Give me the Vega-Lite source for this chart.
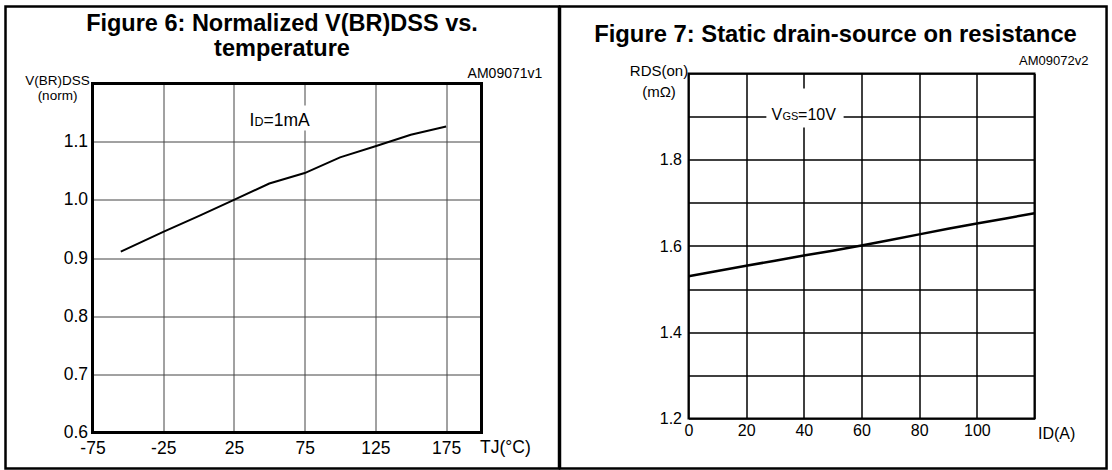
{
  "$schema": "https://vega.github.io/schema/vega-lite/v6.json",
  "background": "white",
  "padding": {"left": 3.5, "top": 3.5, "right": 0, "bottom": 0},
  "spacing": -3,
  "config": {
    "font": "Liberation Sans",
    "view": {"stroke": null},
    "axis": {"labelColor": "black", "titleColor": "black", "titleFontWeight": "normal", "labelFont": "Liberation Sans", "titleFont": "Liberation Sans", "ticks": false, "domain": false, "labelOverlap": false, "labelFlush": false},
    "title": {"color": "black", "font": "Liberation Sans", "fontWeight": "bold"},
    "text": {"fontWeight": "normal", "color": "black", "font": "Liberation Sans"}
  },
  "datasets": {
    "fig6": [
      {"t": -55, "v": 0.911}, {"t": -25, "v": 0.945}, {"t": 0, "v": 0.972}, {"t": 25, "v": 1.0},
      {"t": 50, "v": 1.028}, {"t": 75, "v": 1.046}, {"t": 100, "v": 1.073}, {"t": 125, "v": 1.092},
      {"t": 150, "v": 1.112}, {"t": 175, "v": 1.126}
    ],
    "fig7": [
      {"i": 0, "r": 1.530}, {"i": 10, "r": 1.542}, {"i": 20, "r": 1.554}, {"i": 30, "r": 1.566},
      {"i": 40, "r": 1.578}, {"i": 50, "r": 1.589}, {"i": 60, "r": 1.601}, {"i": 70, "r": 1.614},
      {"i": 80, "r": 1.627}, {"i": 90, "r": 1.640}, {"i": 100, "r": 1.652}, {"i": 110, "r": 1.664},
      {"i": 120, "r": 1.676}
    ],
    "one": [{}]
  },
  "hconcat": [
    {
      "width": 389,
      "height": 359,
      "title": {"text": ["Figure 6: Normalized V(BR)DSS vs.", "temperature"], "fontSize": 23.5, "lineHeight": 25, "anchor": "middle", "dx": -5, "offset": -55},
      "layer": [
        {
          "data": {"name": "one"},
          "mark": {"type": "rect", "fill": null, "stroke": "black", "strokeWidth": 2.5, "clip": false},
          "encoding": {
            "x": {"datum": -136.5, "type": "quantitative", "scale": {"domain": [-75, 200], "nice": false, "zero": false}},
            "x2": {"datum": 254.8},
            "y": {"datum": 1.3324, "type": "quantitative", "scale": {"domain": [0.6, 1.2172], "nice": false, "zero": false}},
            "y2": {"datum": 0.5381}
          }
        },
        {
          "data": {"name": "one"},
          "mark": {"type": "rect", "fill": "white", "stroke": null, "clip": false},
          "encoding": {
            "x": {"datum": -76, "type": "quantitative", "scale": {"domain": [-75, 200], "nice": false, "zero": false}},
            "x2": {"datum": 201},
            "y": {"datum": 1.2172, "type": "quantitative", "scale": {"domain": [0.6, 1.2172], "nice": false, "zero": false}},
            "y2": {"datum": 1.2}
          }
        },
        {
          "data": {"name": "one"},
          "mark": {"type": "rect", "fill": "white", "stroke": null},
          "encoding": {
            "x": {"datum": 32.5, "type": "quantitative", "scale": {"domain": [-75, 200], "nice": false, "zero": false}},
            "x2": {"datum": 89},
            "y": {"datum": 1.162, "type": "quantitative", "scale": {"domain": [0.6, 1.2172], "nice": false, "zero": false}},
            "y2": {"datum": 1.119}
          }
        },
        {
          "data": {"name": "fig6"},
          "mark": {"type": "line", "color": "black", "strokeWidth": 2},
          "encoding": {
            "x": {
              "field": "t", "type": "quantitative",
              "scale": {"domain": [-75, 200], "nice": false, "zero": false},
              "axis": {
                "values": [-75, -50, -25, 0, 25, 50, 75, 100, 125, 150, 175, 200],
                "labelExpr": "abs(datum.value % 50) == 25 ? '' + datum.value : ''",
                "grid": true, "gridColor": "#444", "gridWidth": 1,
                "labelFontSize": 17.5, "labelPadding": 7,
                "title": "TJ(°C)", "titleFontSize": 17.5, "titleX": 387, "titleY": 15,
                "titleAlign": "left", "titleBaseline": "middle", "titleAngle": 0
              }
            },
            "y": {
              "field": "v", "type": "quantitative",
              "scale": {"domain": [0.6, 1.2172], "nice": false, "zero": false},
              "axis": {
                "values": [0.6, 0.7, 0.8, 0.9, 1.0, 1.1, 1.2],
                "labelExpr": "datum.value < 1.15 ? format(datum.value, '.1f') : ''",
                "grid": true, "gridColor": "#444", "gridWidth": 1,
                "labelFontSize": 17.5, "labelPadding": 5,
                "title": ["V(BR)DSS", "(norm)"], "titleFontSize": 13.5, "titleLineHeight": 15,
                "titleAngle": 0, "titleX": -35.5, "titleY": 11, "titleAlign": "center", "titleBaseline": "alphabetic"
              }
            }
          }
        },
        {
          "data": {"name": "one"},
          "mark": {"type": "text", "align": "left", "baseline": "alphabetic", "fontSize": 17.5},
          "encoding": {
            "x": {"datum": 36, "type": "quantitative", "scale": {"domain": [-75, 200], "nice": false, "zero": false}},
            "y": {"datum": 1.1266, "type": "quantitative", "scale": {"domain": [0.6, 1.2172], "nice": false, "zero": false}},
            "text": {"value": "I"}
          }
        },
        {
          "data": {"name": "one"},
          "mark": {"type": "text", "align": "left", "baseline": "alphabetic", "fontSize": 12.5, "dx": 5},
          "encoding": {
            "x": {"datum": 36, "type": "quantitative", "scale": {"domain": [-75, 200], "nice": false, "zero": false}},
            "y": {"datum": 1.1266, "type": "quantitative", "scale": {"domain": [0.6, 1.2172], "nice": false, "zero": false}},
            "text": {"value": "D"}
          }
        },
        {
          "data": {"name": "one"},
          "mark": {"type": "text", "align": "left", "baseline": "alphabetic", "fontSize": 17.5, "dx": 14},
          "encoding": {
            "x": {"datum": 36, "type": "quantitative", "scale": {"domain": [-75, 200], "nice": false, "zero": false}},
            "y": {"datum": 1.1266, "type": "quantitative", "scale": {"domain": [0.6, 1.2172], "nice": false, "zero": false}},
            "text": {"value": "=1mA"}
          }
        },
        {
          "data": {"name": "one"},
          "mark": {"type": "text", "align": "right", "baseline": "middle", "fontSize": 14, "clip": false},
          "encoding": {
            "x": {"datum": 243, "type": "quantitative", "scale": {"domain": [-75, 200], "nice": false, "zero": false}},
            "y": {"datum": 1.2172, "type": "quantitative", "scale": {"domain": [0.6, 1.2172], "nice": false, "zero": false}},
            "text": {"value": "AM09071v1"}
          }
        },
        {
          "data": {"name": "one"},
          "mark": {"type": "rect", "fill": null, "stroke": "black", "strokeWidth": 3, "clip": false},
          "encoding": {
            "x": {"datum": -75, "type": "quantitative", "scale": {"domain": [-75, 200], "nice": false, "zero": false}},
            "x2": {"datum": 200},
            "y": {"datum": 1.2, "type": "quantitative", "scale": {"domain": [0.6, 1.2172], "nice": false, "zero": false}},
            "y2": {"datum": 0.6}
          }
        }
      ]
    },
    {
      "width": 346,
      "height": 345,
      "view": {"stroke": "black", "strokeWidth": 2},
      "title": {"text": "Figure 7: Static drain-source on resistance", "fontSize": 23.8, "anchor": "middle", "dx": -26, "offset": -42},
      "layer": [
        {
          "data": {"name": "one"},
          "mark": {"type": "rect", "fill": null, "stroke": "black", "strokeWidth": 2.5, "clip": false},
          "encoding": {
            "x": {"datum": -44.57, "type": "quantitative", "scale": {"domain": [0, 120], "nice": false, "zero": false}},
            "x2": {"datum": 144.99},
            "y": {"datum": 2.1554, "type": "quantitative", "scale": {"domain": [1.2, 2.0], "nice": false, "zero": false}},
            "y2": {"datum": 1.0841}
          }
        },
        {
          "data": {"name": "one"},
          "mark": {"type": "rect", "fill": "white", "stroke": null},
          "encoding": {
            "x": {"datum": 27, "type": "quantitative", "scale": {"domain": [0, 120], "nice": false, "zero": false}},
            "x2": {"datum": 53.8},
            "y": {"datum": 1.965, "type": "quantitative", "scale": {"domain": [1.2, 2.0], "nice": false, "zero": false}},
            "y2": {"datum": 1.875}
          }
        },
        {
          "data": {"name": "fig7"},
          "mark": {"type": "line", "color": "black", "strokeWidth": 2.5},
          "encoding": {
            "x": {
              "field": "i", "type": "quantitative",
              "scale": {"domain": [0, 120], "nice": false, "zero": false},
              "axis": {
                "values": [0, 10, 20, 30, 40, 50, 60, 70, 80, 90, 100, 110, 120],
                "labelExpr": "datum.value % 20 == 0 && datum.value < 110 ? datum.label : ''",
                "grid": true, "gridColor": "black", "gridWidth": 1.5,
                "labelFontSize": 16, "labelPadding": 4,
                "title": "ID(A)", "titleFontSize": 16, "titleX": 349, "titleY": 15,
                "titleAlign": "left", "titleBaseline": "middle", "titleAngle": 0
              }
            },
            "y": {
              "field": "r", "type": "quantitative",
              "scale": {"domain": [1.2, 2.0], "nice": false, "zero": false},
              "axis": {
                "values": [1.2, 1.3, 1.4, 1.5, 1.6, 1.7, 1.8, 1.9, 2.0],
                "labelExpr": "(round(datum.value * 10) % 2 == 0) && datum.value < 1.95 ? format(datum.value, '.1f') : ''",
                "grid": true, "gridColor": "black", "gridWidth": 1.5,
                "labelFontSize": 16, "labelPadding": 7,
                "title": ["RDS(on)", "(mΩ)"], "titleFontSize": 15, "titleLineHeight": 21,
                "titleAngle": 0, "titleX": -30, "titleY": 2, "titleAlign": "center", "titleBaseline": "alphabetic"
              }
            }
          }
        },
        {
          "data": {"name": "one"},
          "mark": {"type": "text", "align": "left", "baseline": "alphabetic", "fontSize": 16},
          "encoding": {
            "x": {"datum": 28.8, "type": "quantitative", "scale": {"domain": [0, 120], "nice": false, "zero": false}},
            "y": {"datum": 1.8933, "type": "quantitative", "scale": {"domain": [1.2, 2.0], "nice": false, "zero": false}},
            "text": {"value": "V"}
          }
        },
        {
          "data": {"name": "one"},
          "mark": {"type": "text", "align": "left", "baseline": "alphabetic", "fontSize": 11, "dx": 11},
          "encoding": {
            "x": {"datum": 28.8, "type": "quantitative", "scale": {"domain": [0, 120], "nice": false, "zero": false}},
            "y": {"datum": 1.8933, "type": "quantitative", "scale": {"domain": [1.2, 2.0], "nice": false, "zero": false}},
            "text": {"value": "GS"}
          }
        },
        {
          "data": {"name": "one"},
          "mark": {"type": "text", "align": "left", "baseline": "alphabetic", "fontSize": 16, "dx": 26.5},
          "encoding": {
            "x": {"datum": 28.8, "type": "quantitative", "scale": {"domain": [0, 120], "nice": false, "zero": false}},
            "y": {"datum": 1.8933, "type": "quantitative", "scale": {"domain": [1.2, 2.0], "nice": false, "zero": false}},
            "text": {"value": "=10V"}
          }
        },
        {
          "data": {"name": "one"},
          "mark": {"type": "text", "align": "right", "baseline": "middle", "fontSize": 13, "clip": false},
          "encoding": {
            "x": {"datum": 138.7, "type": "quantitative", "scale": {"domain": [0, 120], "nice": false, "zero": false}},
            "y": {"datum": 2.030, "type": "quantitative", "scale": {"domain": [1.2, 2.0], "nice": false, "zero": false}},
            "text": {"value": "AM09072v2"}
          }
        }
      ]
    }
  ]
}
